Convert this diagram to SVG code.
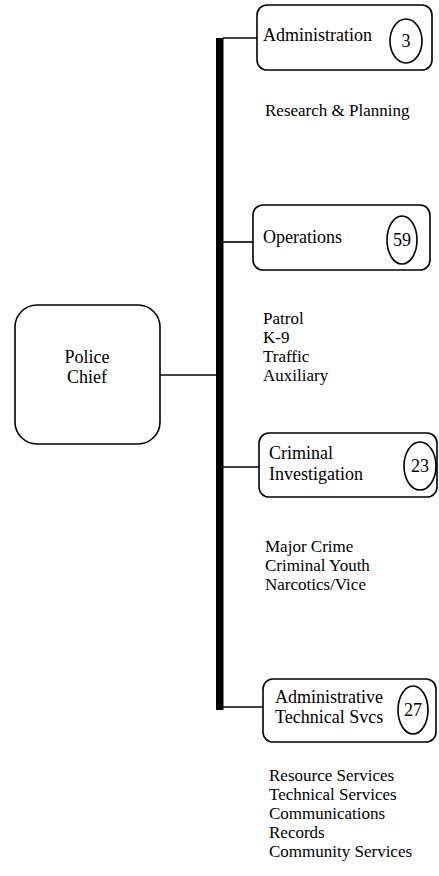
<svg xmlns="http://www.w3.org/2000/svg" width="439" height="876" viewBox="0 0 439 876">
<style>
text{font-family:"Liberation Serif","Times New Roman",serif;font-size:18px;fill:#000}
text.item{font-size:17px}
.box{fill:#fff;stroke:#000;stroke-width:1.6}
.oval{fill:#fff;stroke:#000;stroke-width:1.6}
.conn{stroke:#000;stroke-width:1.6;fill:none}
.num{text-anchor:middle}
</style>
<rect width="439" height="876" fill="#fff"/>
<g id="connectors">
<rect x="216" y="38" width="7.5" height="672" fill="#000"/>
<line class="conn" x1="223" y1="38" x2="257" y2="38"/>
<line class="conn" x1="223" y1="242" x2="253" y2="242"/>
<line class="conn" x1="160" y1="375" x2="216" y2="375"/>
<line class="conn" x1="223" y1="467" x2="259" y2="467"/>
<line class="conn" x1="223" y1="707" x2="263" y2="707"/>
</g>
<g id="police-chief">
<rect class="box" x="15" y="305" width="145" height="139" rx="22"/>
<text x="87" y="363" text-anchor="middle">Police</text>
<text x="87" y="383" text-anchor="middle">Chief</text>
</g>
<g id="administration">
<rect class="box" x="257" y="5" width="175" height="65" rx="10"/>
<text x="263" y="41">Administration</text>
<ellipse class="oval" cx="406" cy="41" rx="16" ry="22"/>
<text class="num" x="406" y="47">3</text>
<text class="item" x="265" y="116">Research &amp; Planning</text>
</g>
<g id="operations">
<rect class="box" x="253" y="205" width="177" height="65" rx="10"/>
<text x="263" y="243">Operations</text>
<ellipse class="oval" cx="402" cy="240" rx="15" ry="24"/>
<text class="num" x="402" y="246">59</text>
<text class="item" x="263" y="324">Patrol</text>
<text class="item" x="263" y="343">K-9</text>
<text class="item" x="263" y="362">Traffic</text>
<text class="item" x="263" y="381">Auxiliary</text>
</g>
<g id="criminal-investigation">
<rect class="box" x="259" y="433" width="178" height="64" rx="10"/>
<text x="269" y="459">Criminal</text>
<text x="269" y="480">Investigation</text>
<ellipse class="oval" cx="420" cy="466" rx="16" ry="24"/>
<text class="num" x="420" y="472">23</text>
<text class="item" x="265" y="552">Major Crime</text>
<text class="item" x="265" y="571">Criminal Youth</text>
<text class="item" x="265" y="590">Narcotics/Vice</text>
</g>
<g id="administrative-technical">
<rect class="box" x="263" y="679" width="173" height="63" rx="10"/>
<text x="275" y="703">Administrative</text>
<text x="275" y="723">Technical Svcs</text>
<ellipse class="oval" cx="413" cy="710" rx="15" ry="24"/>
<text class="num" x="413" y="716">27</text>
<text class="item" x="269" y="781">Resource Services</text>
<text class="item" x="269" y="800">Technical Services</text>
<text class="item" x="269" y="819">Communications</text>
<text class="item" x="269" y="838">Records</text>
<text class="item" x="269" y="857">Community Services</text>
</g>
</svg>
